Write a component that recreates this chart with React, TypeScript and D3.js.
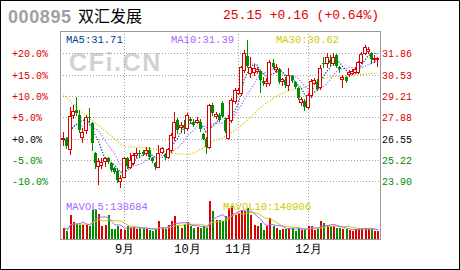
import React from 'react';
import * as d3 from 'd3';

const stockCode = '000895';
const stockName = '双汇发展';
const quoteText = '25.15 +0.16 (+0.64%)';

const opens = [
  26.53, 26.51, 25.89, 28.00, 28.34, 28.03, 26.68, 27.09, 27.92, 27.51,
  25.64, 24.85, 24.92, 25.19, 25.33, 25.06, 24.71, 24.56, 23.94, 24.19,
  25.33, 24.81, 25.02, 25.54, 25.68, 25.70, 25.64, 25.85, 25.33, 25.02,
  24.81, 25.75, 25.60, 25.43, 25.85, 26.68, 27.71, 27.26, 27.40, 27.20,
  27.76, 27.61, 27.61, 27.61, 26.85, 26.51, 26.02, 28.63, 27.94, 28.03,
  28.75, 27.71, 26.57, 27.71, 28.92, 29.41, 29.37, 30.82, 31.70, 30.62,
  30.72, 30.74, 30.76, 30.16, 30.04, 29.99, 31.24, 30.87, 30.87, 30.14,
  30.20, 29.89, 30.45, 30.10, 29.73, 28.85, 28.92, 28.54, 29.27, 30.04,
  30.10, 29.79, 31.28, 31.24, 31.45, 31.28, 31.76, 30.99, 30.24, 30.37,
  30.58, 30.66, 30.72, 30.72, 31.34, 31.86, 32.01, 31.90, 31.51, 31.51,
];
const highs = [
  26.99, 26.68, 28.54, 28.65, 29.17, 28.34, 27.20, 28.03, 28.44, 27.61,
  25.75, 25.33, 25.33, 25.43, 25.43, 25.12, 24.81, 24.65, 24.29, 25.43,
  25.43, 25.64, 25.64, 25.95, 25.85, 25.85, 26.06, 26.02, 25.43, 25.12,
  26.16, 26.06, 25.68, 25.95, 26.89, 28.23, 27.82, 27.61, 27.71, 28.17,
  27.92, 27.76, 27.92, 27.76, 26.93, 26.68, 28.71, 28.79, 28.23, 28.13,
  28.88, 27.82, 28.03, 29.06, 29.68, 29.68, 31.07, 32.07, 32.69, 31.65,
  31.14, 30.99, 30.82, 30.41, 30.31, 31.45, 31.49, 31.20, 30.93, 30.35,
  30.37, 30.93, 30.51, 30.16, 29.79, 29.17, 29.00, 29.37, 30.24, 30.31,
  30.24, 31.14, 31.65, 31.90, 31.76, 31.90, 31.82, 31.07, 30.51, 30.45,
  30.82, 30.87, 30.99, 31.40, 31.96, 32.38, 32.28, 31.96, 31.76, 31.65,
];
const lows = [
  26.16, 25.95, 25.60, 27.82, 28.03, 26.99, 26.37, 26.89, 27.61, 25.85,
  24.71, 23.73, 24.71, 24.85, 25.06, 24.56, 24.40, 23.88, 23.57, 24.15,
  24.71, 24.71, 24.98, 25.43, 25.43, 25.54, 25.54, 25.27, 25.12, 24.65,
  24.77, 25.64, 25.29, 25.33, 25.75, 26.47, 26.89, 26.99, 26.89, 27.09,
  27.51, 27.34, 27.51, 27.05, 26.51, 25.68, 25.95, 28.03, 27.82, 27.67,
  27.88, 26.99, 26.51, 27.61, 28.75, 29.33, 29.27, 30.72, 31.03, 30.41,
  30.51, 30.62, 29.48, 29.89, 29.83, 29.89, 30.93, 30.72, 30.04, 29.89,
  29.79, 29.58, 30.10, 29.68, 29.00, 28.65, 28.34, 28.44, 29.17, 29.95,
  29.58, 29.62, 31.03, 31.03, 31.07, 31.14, 30.99, 30.72, 29.79, 30.10,
  30.45, 30.58, 30.62, 30.62, 31.24, 31.82, 31.90, 31.24, 31.34, 31.07,
];
const closes = [
  26.62, 26.10, 27.96, 28.30, 28.17, 27.09, 26.99, 27.88, 27.84, 26.30,
  25.02, 25.19, 25.12, 25.33, 25.12, 24.61, 24.50, 23.98, 24.13, 25.33,
  24.85, 25.23, 25.54, 25.68, 25.58, 25.60, 25.85, 25.39, 25.19, 24.81,
  25.64, 25.95, 25.39, 25.89, 26.78, 27.61, 27.09, 27.40, 27.20, 28.03,
  27.67, 27.40, 27.71, 27.13, 26.55, 26.06, 28.63, 28.13, 28.07, 27.71,
  27.96, 27.05, 27.82, 28.96, 29.58, 29.58, 31.03, 31.90, 31.07, 31.03,
  30.93, 30.87, 30.20, 30.04, 30.16, 31.34, 31.03, 31.03, 30.10, 30.26,
  29.89, 30.51, 30.20, 29.79, 29.06, 29.02, 28.50, 29.27, 30.14, 30.20,
  29.62, 30.93, 31.20, 31.65, 31.28, 31.65, 31.07, 30.87, 30.41, 30.16,
  30.72, 30.78, 30.87, 31.34, 31.82, 32.28, 32.13, 31.49, 31.59, 31.59,
];
const volumes = [
  164000, 114000, 363000, 248000, 224000, 214000, 214000, 214000, 189000, 437000,
  437000, 377000, 189000, 214000, 353000, 149000, 149000, 199000, 149000, 139000,
  189000, 164000, 179000, 149000, 164000, 164000, 149000, 139000, 114000, 149000,
  263000, 164000, 149000, 214000, 263000, 348000, 214000, 164000, 228000, 248000,
  189000, 164000, 179000, 164000, 189000, 164000, 566000, 412000, 288000, 288000,
  263000, 338000, 462000, 487000, 363000, 387000, 437000, 412000, 462000, 363000,
  214000, 189000, 238000, 139000, 189000, 313000, 189000, 164000, 129000, 149000,
  149000, 164000, 164000, 114000, 164000, 139000, 149000, 189000, 199000, 139000,
  149000, 263000, 238000, 214000, 189000, 189000, 164000, 164000, 149000, 149000,
  129000, 114000, 149000, 164000, 164000, 164000, 149000, 149000, 114000, 114000,
];
// MA30 (its history predates the visible window)
const ma30Idx = [0, 5, 10, 15, 20, 25, 30, 35, 39, 44, 47, 52, 55, 58, 62, 68, 72, 77, 81, 85, 90, 96, 99];
const ma30Val = [29.31, 28.34, 27.55, 26.74, 26.04, 26.0, 25.85, 25.62, 25.58, 25.97, 26.37, 26.78, 27.2, 27.71, 28.44, 29.27, 29.6, 29.8, 30.2, 30.41, 30.45, 30.6, 30.62];

const monthIdx = [19, 39, 55, 77];
const monthLabels = ['9月', '10月', '11月', '12月'];
const pctTicks = [20, 15, 10, 5, 0, -5, -10];
const pctLabels = ['+20.0%', '+15.0%', '+10.0%', '+5.0%', '+0.0%', '-5.0%', '-10.0%'];
const priceLabels = ['31.86', '30.53', '29.21', '27.88', '26.55', '25.22', '23.90'];
const basePrice = 26.55;
const maLabels = ['MA5:31.71', 'MA10:31.39', 'MA30:30.62'];
const volLabels = ['MAVOL5:138684', 'MAVOL10:140906'];

const RED = '#dd0000';
const GREEN = '#008c00';
const BLUE = '#003d94';
const PURPLE = '#a866ff';
const YELLOW = '#cccc00';
const MONO = "'Liberation Mono', 'DejaVu Sans Mono', monospace";

const W = 460, H = 270;
const L = 60, R = 380, T = 31, B = 239;

function movingAvg(arr: number[], p: number): number[] {
  return arr.map((_, i) => d3.mean(arr.slice(Math.max(0, i - p + 1), i + 1)) as number);
}

export default function App() {
  const n = closes.length;
  const x = d3.scaleLinear().domain([0, n - 1]).range([63.3, 377.3]);
  const y = d3.scaleLinear().domain([23.9, 31.86]).range([181.3, 53.3]);
  const yv = d3.scaleLinear().domain([0, 596000]).range([B, B - 40]);

  const ma5 = movingAvg(closes, 5);
  const ma10 = movingAvg(closes, 10);
  const vma5 = movingAvg(volumes, 5);
  const vma10 = movingAvg(volumes, 10);

  const priceLine = d3.line<number>().x((_, i) => x(i)).y((d) => y(d));
  const ma30Line = d3
    .line<number>()
    .x((_, i) => x(ma30Idx[i]))
    .y((d) => y(d))
    .curve(d3.curveMonotoneX);
  const volLine = d3.line<number>().x((_, i) => x(i) + 1).y((d) => yv(d));

  const gridYs = pctTicks.map((p) => Math.round(y(basePrice * (1 + p / 100))) + 0.5);
  const gridXs = monthIdx.map((i) => Math.round(x(i)) + 0.5);
  const tickColor = (p: number) => (p > 0 ? RED : p < 0 ? GREEN : '#000');

  return (
    <svg
      width={W}
      height={H}
      style={{ position: 'absolute', left: 0, top: 0, display: 'block', background: '#fff' }}
    >
      <rect x={0} y={0} width={W} height={H} fill="#fff" />
      <rect x={0.5} y={0.5} width={W - 1} height={H - 1} fill="none" stroke="#000" />

      {/* header */}
      <text x={8} y={23} fontFamily="'Liberation Sans', Arial, sans-serif" fontWeight="bold" fontSize={18} fill="#a0a0a0" letterSpacing={0.6}>
        {stockCode}
      </text>
      <text x={78} y={21.5} fontFamily="'Noto Sans CJK SC', sans-serif" fontSize={16} fill="#000">
        {stockName}
      </text>
      <text x={223} y={18.5} fontFamily={MONO} fontSize={13} fill={RED}>
        {quoteText}
      </text>

      {/* watermark */}
      <text x={69} y={71} fontFamily="'Liberation Sans', Arial, sans-serif" fontWeight="bold" fontSize={25} fill="#d2d2d2" letterSpacing={1.6}>
        CFi.CN
      </text>

      {/* grid */}
      <g shapeRendering="crispEdges" stroke="#a0a0a0" strokeDasharray="1,2">
        {gridYs.map((gy, k) => (
          <line key={'h' + k} x1={L} x2={R} y1={gy} y2={gy} />
        ))}
        {gridXs.map((gx, k) => (
          <line key={'v' + k} x1={gx} x2={gx} y1={T} y2={B} />
        ))}
      </g>

      {/* axis labels */}
      {pctLabels.map((s, k) => (
        <text key={'pl' + k} x={12} y={gridYs[k] + 3.5} fontFamily={MONO} fontSize={10} fill={tickColor(pctTicks[k])}>
          {s}
        </text>
      ))}
      {priceLabels.map((s, k) => (
        <text key={'pr' + k} x={382} y={gridYs[k] + 3.5} fontFamily={MONO} fontSize={10} fill={tickColor(pctTicks[k])}>
          {s}
        </text>
      ))}
      {monthLabels.map((s, k) => (
        <text key={'m' + k} x={gridXs[k]} y={253} textAnchor="middle" fontFamily={MONO} fontSize={12} fill="#000">
          {s}
        </text>
      ))}

      {/* volume bars */}
      <g shapeRendering="crispEdges">
        {volumes.map((v, i) => {
          const cx = Math.round(x(i));
          const up = closes[i] >= opens[i];
          const top = Math.round(yv(v));
          return <rect key={'v' + i} x={cx} y={top} width={2} height={B - top} fill={up ? RED : GREEN} />;
        })}
      </g>
      <path d={volLine(vma10) || ''} fill="none" stroke={YELLOW} strokeWidth={1} />
      <path d={volLine(vma5) || ''} fill="none" stroke={PURPLE} strokeWidth={1} />

      {/* moving averages */}
      <path d={ma30Line(ma30Val) || ''} fill="none" stroke={YELLOW} strokeWidth={1.2} strokeDasharray="1.2,1.6" />
      <path d={priceLine(ma10) || ''} fill="none" stroke={PURPLE} strokeWidth={1.2} strokeDasharray="1.2,1.6" />
      <path d={priceLine(ma5) || ''} fill="none" stroke={BLUE} strokeWidth={1.2} strokeDasharray="1.2,1.6" />

      {/* candles */}
      <g shapeRendering="crispEdges">
        {closes.map((c, i) => {
          const o = opens[i];
          const up = c >= o;
          const col = up ? RED : GREEN;
          const cx = Math.round(x(i));
          const yt = Math.round(y(Math.max(o, c)));
          const yb = Math.round(y(Math.min(o, c)));
          const yh = Math.round(y(highs[i]));
          const yl = Math.round(y(lows[i]));
          const h = Math.max(yb - yt, 1);
          return (
            <g key={'c' + i}>
              <line x1={cx + 0.5} x2={cx + 0.5} y1={yh} y2={yl + 1} stroke={col} />
              {up ? (
                <rect x={cx - 1.5} y={yt + 0.5} width={3} height={h} fill="#fff" stroke={col} />
              ) : (
                <rect x={cx - 1} y={yt} width={3} height={h} fill={col} />
              )}
            </g>
          );
        })}
      </g>

      {/* MA labels */}
      <text x={66} y={43} fontFamily={MONO} fontSize={10.5} fill={BLUE}>{maLabels[0]}</text>
      <text x={171} y={43} fontFamily={MONO} fontSize={10.5} fill={PURPLE}>{maLabels[1]}</text>
      <text x={276} y={43} fontFamily={MONO} fontSize={10.5} fill={YELLOW}>{maLabels[2]}</text>
      <text x={66} y={210} fontFamily={MONO} fontSize={10.5} fill={PURPLE}>{volLabels[0]}</text>
      <text x={223} y={210} fontFamily={MONO} fontSize={10.5} fill={YELLOW}>{volLabels[1]}</text>

      {/* frame */}
      <rect x={L + 0.5} y={T + 0.5} width={R - L} height={B - T} fill="none" stroke="#999" shapeRendering="crispEdges" />
    </svg>
  );
}
